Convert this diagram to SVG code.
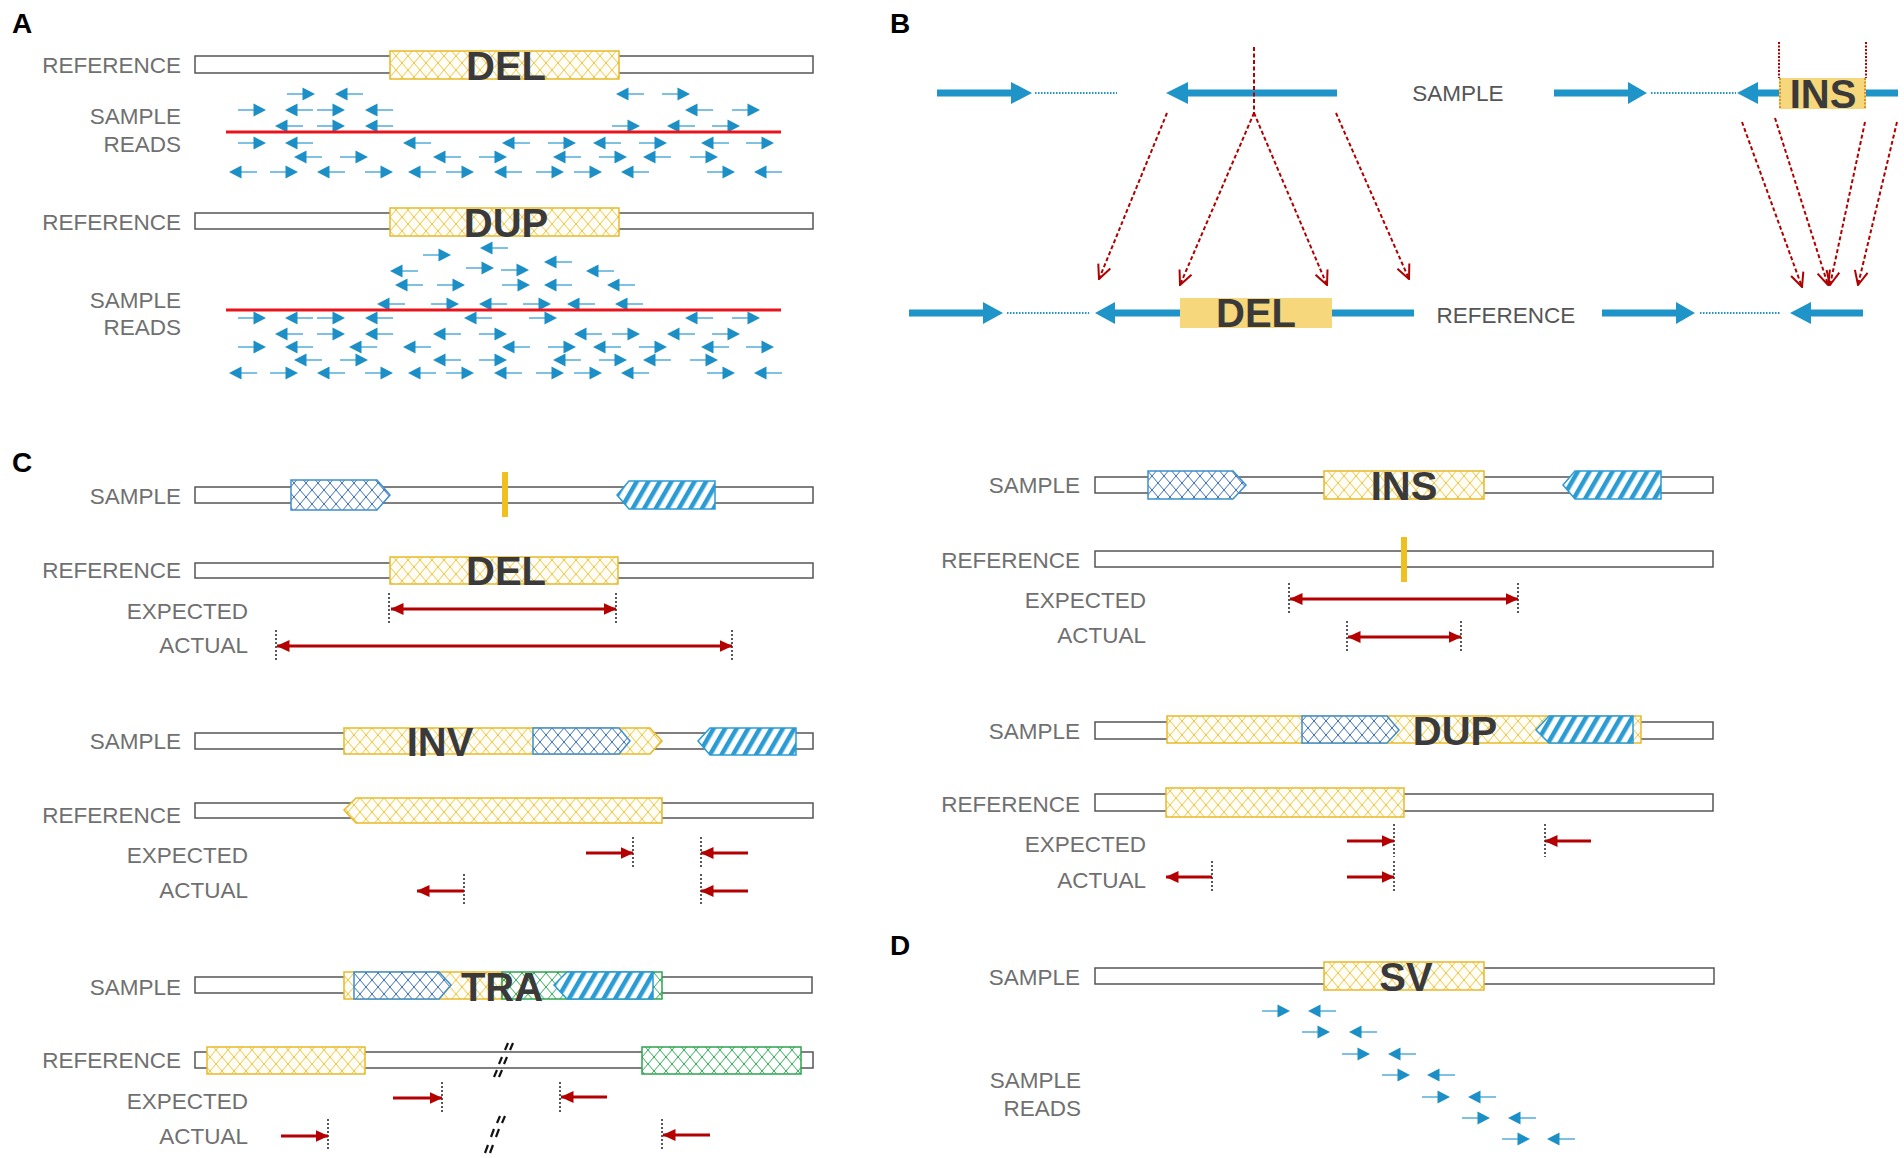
<svg xmlns="http://www.w3.org/2000/svg" xmlns:xlink="http://www.w3.org/1999/xlink" width="1904" height="1158" viewBox="0 0 1904 1158">
<style>
.pl{font-family:"Liberation Sans",Arial,sans-serif;font-weight:bold;font-size:28px;fill:#000}
.lbl{font-family:"Liberation Sans",Arial,sans-serif;font-size:22.5px;fill:#707070;text-anchor:end}
.lbc{font-family:"Liberation Sans",Arial,sans-serif;font-size:22.5px;fill:#555;text-anchor:middle}
.big{font-family:"Liberation Sans",Arial,sans-serif;font-weight:bold;font-size:40px;fill:#3a3a3a;text-anchor:middle}
.bar{fill:#fff;stroke:#555;stroke-width:1.5}
.ylw{fill:url(#pY);stroke:#e8b92a;stroke-width:1.5}
.blx{fill:url(#pB);stroke:#3d8fcc;stroke-width:1.5}
.bls{fill:url(#pS);stroke:#2b9bd3;stroke-width:1.5}
.grn{fill:url(#pG);stroke:#2da44e;stroke-width:1.5}
.vb{fill:#f0c020}
.dot{stroke:#222;stroke-width:1.5;stroke-dasharray:2 2;fill:none}
.ra{stroke:#b40000;stroke-width:3;fill:none;marker-end:url(#ah)}
.rb{stroke:#b40000;stroke-width:3;fill:none;marker-end:url(#ah);marker-start:url(#ah)}
.bt{stroke:#1f94c8;stroke-width:7;fill:none}
.bh{fill:#1f94c8}
.bd{stroke:#1f94c8;stroke-width:2;stroke-dasharray:1.5 1.5;fill:none}
.rd{stroke:#b00000;stroke-width:2;stroke-dasharray:4 2.5;fill:none}
.rdd{stroke:#b00000;stroke-width:2;stroke-dasharray:2 1.5;fill:none}
.odd{stroke:#e0902a;stroke-width:2;stroke-dasharray:2 1.5;fill:none}
.rda{stroke:#b00000;stroke-width:2;stroke-dasharray:4 2.5;fill:none;marker-end:url(#chev)}
.ins{fill:#f6d77c}
.brk{stroke:#111;stroke-width:2.2;fill:none}
.red{stroke:#e8141c;stroke-width:3}
</style>
<defs>
<pattern id="pY" width="12" height="14" patternUnits="userSpaceOnUse"><rect width="12" height="14" fill="#fffdf6"/><path d="M0,0 L12,14 M12,0 L0,14" stroke="#efc640" stroke-width="1"/></pattern>
<pattern id="pB" width="12" height="14" patternUnits="userSpaceOnUse"><rect width="12" height="14" fill="#fff"/><path d="M0,0 L12,14 M12,0 L0,14" stroke="#3a6db8" stroke-width="1"/></pattern>
<pattern id="pG" width="12" height="14" patternUnits="userSpaceOnUse"><rect width="12" height="14" fill="#fff"/><path d="M0,0 L12,14 M12,0 L0,14" stroke="#2fae55" stroke-width="1"/></pattern>
<pattern id="pS" width="10" height="10" patternUnits="userSpaceOnUse" patternTransform="rotate(30)"><rect width="10" height="10" fill="#fff"/><rect width="4.5" height="10" fill="#2b9bd3"/></pattern>
<marker id="ah" viewBox="0 0 13 12" refX="12.5" refY="6" markerWidth="13" markerHeight="12" orient="auto-start-reverse" markerUnits="userSpaceOnUse"><path d="M0,0 L13,6 L0,12 z" fill="#b40000"/></marker>
<marker id="chev" viewBox="0 0 16 16" refX="15" refY="8" markerWidth="16" markerHeight="16" orient="auto" markerUnits="userSpaceOnUse"><path d="M1,1.5 L15,8 L1,14.5" fill="none" stroke="#b00000" stroke-width="2"/></marker>
<g id="rr"><path d="M0,0 H18" stroke="#5fb2dc" stroke-width="1.6"/><path d="M15.5,-6.5 L28,0 L15.5,6.5 z" fill="#1b8fc6"/></g>
<g id="rl"><path d="M10,0 H28" stroke="#5fb2dc" stroke-width="1.6"/><path d="M12.5,-6.5 L0,0 L12.5,6.5 z" fill="#1b8fc6"/></g>
</defs>
<rect width="1904" height="1158" fill="#fff"/>

<!-- Panel A -->
<g id="panelA">
<text class="pl" x="12" y="33">A</text>
<g id="A-del-ref">
<text class="lbl" x="181" y="73">REFERENCE</text>
<rect class="bar" x="195" y="56" width="618" height="17"/>
<rect class="ylw" x="390" y="51" width="229" height="28"/>
<text class="big" x="506" y="80">DEL</text>
</g>
<g id="A-del-reads">
<text class="lbl" x="181" y="124">SAMPLE</text>
<text class="lbl" x="181" y="152">READS</text>
<use href="#rr" x="287" y="94"/><use href="#rl" x="335" y="94"/><use href="#rl" x="616" y="94"/><use href="#rr" x="662" y="94"/>
<use href="#rr" x="238" y="110"/><use href="#rl" x="285" y="110"/><use href="#rr" x="317" y="110"/><use href="#rl" x="365" y="110"/><use href="#rl" x="685" y="110"/><use href="#rr" x="732" y="110"/>
<use href="#rl" x="275" y="126"/><use href="#rr" x="317" y="126"/><use href="#rl" x="365" y="126"/><use href="#rr" x="612" y="126"/><use href="#rl" x="667" y="126"/><use href="#rr" x="712" y="126"/>
<line class="red" x1="226" y1="132" x2="781" y2="132"/>
<use href="#rr" x="238" y="143"/><use href="#rl" x="285" y="143"/><use href="#rl" x="403" y="143"/><use href="#rl" x="502" y="143"/><use href="#rr" x="548" y="143"/><use href="#rl" x="593" y="143"/><use href="#rr" x="639" y="143"/><use href="#rl" x="701" y="143"/><use href="#rr" x="746" y="143"/>
<use href="#rl" x="294" y="157"/><use href="#rr" x="340" y="157"/><use href="#rl" x="433" y="157"/><use href="#rr" x="479" y="157"/><use href="#rl" x="553" y="157"/><use href="#rr" x="599" y="157"/><use href="#rl" x="643" y="157"/><use href="#rr" x="690" y="157"/>
<use href="#rl" x="229" y="172"/><use href="#rr" x="270" y="172"/><use href="#rl" x="317" y="172"/><use href="#rr" x="365" y="172"/><use href="#rl" x="408" y="172"/><use href="#rr" x="446" y="172"/><use href="#rl" x="494" y="172"/><use href="#rr" x="536" y="172"/><use href="#rr" x="574" y="172"/><use href="#rl" x="621" y="172"/><use href="#rr" x="707" y="172"/><use href="#rl" x="754" y="172"/>
</g>
<g id="A-dup-ref">
<text class="lbl" x="181" y="230">REFERENCE</text>
<rect class="bar" x="195" y="213" width="618" height="16"/>
<rect class="ylw" x="390" y="208" width="229" height="28"/>
<text class="big" x="506" y="237">DUP</text>
</g>
<g id="A-dup-reads">
<text class="lbl" x="181" y="308">SAMPLE</text>
<text class="lbl" x="181" y="335">READS</text>
<use href="#rl" x="480" y="248"/>
<use href="#rr" x="423" y="255"/>
<use href="#rl" x="544" y="262"/>
<use href="#rl" x="390" y="271"/><use href="#rr" x="466" y="268"/><use href="#rr" x="501" y="270"/><use href="#rl" x="586" y="271"/>
<use href="#rl" x="395" y="285"/><use href="#rr" x="437" y="285"/><use href="#rr" x="502" y="285"/><use href="#rl" x="544" y="285"/><use href="#rl" x="607" y="285"/>
<use href="#rl" x="377" y="304"/><use href="#rr" x="431" y="304"/><use href="#rl" x="479" y="304"/><use href="#rr" x="523" y="304"/><use href="#rl" x="567" y="304"/><use href="#rl" x="615" y="304"/>
<line class="red" x1="226" y1="310" x2="781" y2="310"/>
<use href="#rr" x="238" y="318"/><use href="#rl" x="285" y="318"/><use href="#rr" x="317" y="318"/><use href="#rl" x="365" y="318"/><use href="#rl" x="464" y="318"/><use href="#rr" x="529" y="318"/><use href="#rl" x="685" y="318"/><use href="#rr" x="732" y="318"/>
<use href="#rl" x="275" y="334"/><use href="#rr" x="317" y="334"/><use href="#rl" x="365" y="334"/><use href="#rl" x="433" y="334"/><use href="#rr" x="479" y="334"/><use href="#rl" x="574" y="334"/><use href="#rr" x="612" y="334"/><use href="#rl" x="667" y="334"/><use href="#rr" x="712" y="334"/>
<use href="#rr" x="238" y="347"/><use href="#rl" x="285" y="347"/><use href="#rl" x="349" y="347"/><use href="#rl" x="403" y="347"/><use href="#rl" x="502" y="347"/><use href="#rr" x="548" y="347"/><use href="#rl" x="593" y="347"/><use href="#rr" x="639" y="347"/><use href="#rl" x="701" y="347"/><use href="#rr" x="746" y="347"/>
<use href="#rl" x="294" y="360"/><use href="#rr" x="340" y="360"/><use href="#rl" x="433" y="360"/><use href="#rr" x="479" y="360"/><use href="#rl" x="553" y="360"/><use href="#rr" x="599" y="360"/><use href="#rl" x="643" y="360"/><use href="#rr" x="690" y="360"/>
<use href="#rl" x="229" y="373"/><use href="#rr" x="270" y="373"/><use href="#rl" x="317" y="373"/><use href="#rr" x="365" y="373"/><use href="#rl" x="408" y="373"/><use href="#rr" x="446" y="373"/><use href="#rl" x="494" y="373"/><use href="#rr" x="536" y="373"/><use href="#rr" x="574" y="373"/><use href="#rl" x="621" y="373"/><use href="#rr" x="707" y="373"/><use href="#rl" x="754" y="373"/>
</g>
</g>

<!-- Panel B -->
<g id="panelB">
<text class="pl" x="890" y="33">B</text>
<g id="B-sample">
<line class="bt" x1="937" y1="93" x2="1012" y2="93"/><polygon class="bh" points="1011,82 1032,93 1011,104"/>
<line class="bd" x1="1035" y1="93" x2="1117" y2="93"/>
<polygon class="bh" points="1188,82 1166,93 1188,104"/><line class="bt" x1="1187" y1="93" x2="1337" y2="93"/>
<text class="lbc" x="1458" y="101">SAMPLE</text>
<line class="bt" x1="1554" y1="93" x2="1629" y2="93"/><polygon class="bh" points="1628,82 1647,93 1628,104"/>
<line class="bd" x1="1651" y1="93" x2="1736" y2="93"/>
<polygon class="bh" points="1758,82 1737,93 1758,104"/><line class="bt" x1="1757" y1="93" x2="1898" y2="93"/>
<rect class="ins" x="1779" y="78" width="87" height="31"/>
<line class="odd" x1="1780" y1="78" x2="1780" y2="109"/>
<line class="odd" x1="1865" y1="78" x2="1865" y2="109"/>
<text class="big" x="1823" y="108">INS</text>
</g>
<g id="B-reference">
<line class="bt" x1="909" y1="313" x2="984" y2="313"/><polygon class="bh" points="983,302 1003,313 983,324"/>
<line class="bd" x1="1007" y1="313" x2="1089" y2="313"/>
<polygon class="bh" points="1115,302 1095,313 1115,324"/><line class="bt" x1="1114" y1="313" x2="1414" y2="313"/>
<rect class="ins" x="1180" y="298" width="152" height="30"/>
<text class="big" x="1256" y="327">DEL</text>
<text class="lbc" x="1506" y="323">REFERENCE</text>
<line class="bt" x1="1602" y1="313" x2="1677" y2="313"/><polygon class="bh" points="1676,302 1695,313 1676,324"/>
<line class="bd" x1="1700" y1="313" x2="1781" y2="313"/>
<polygon class="bh" points="1811,302 1790,313 1811,324"/><line class="bt" x1="1810" y1="313" x2="1863" y2="313"/>
</g>
<g id="B-connectors">
<line class="rd" x1="1254" y1="47" x2="1254" y2="113"/>
<line class="rdd" x1="1779" y1="42" x2="1779" y2="78"/>
<line class="rdd" x1="1866" y1="42" x2="1866" y2="78"/>
<line class="rda" x1="1167" y1="113" x2="1099" y2="279"/>
<line class="rda" x1="1254" y1="113" x2="1180" y2="285"/>
<line class="rda" x1="1254" y1="113" x2="1327" y2="285"/>
<line class="rda" x1="1336" y1="113" x2="1409" y2="279"/>
<line class="rda" x1="1742" y1="122" x2="1802" y2="287"/>
<line class="rda" x1="1775" y1="118" x2="1828" y2="285"/>
<line class="rda" x1="1865" y1="122" x2="1830" y2="285"/>
<line class="rda" x1="1897" y1="122" x2="1858" y2="285"/>
</g>
</g>

<!-- Panel C -->
<g id="panelC">
<text class="pl" x="12" y="472">C</text>
<g id="C-del">
<text class="lbl" x="181" y="504">SAMPLE</text>
<rect class="bar" x="195" y="487" width="618" height="16"/>
<polygon class="blx" points="291,480 377,480 390,495 377,510 291,510"/>
<rect class="vb" x="502" y="472" width="6" height="45"/>
<polygon class="bls" points="629,481 715,481 715,509 629,509 617,495"/>
<text class="lbl" x="181" y="578">REFERENCE</text>
<rect class="bar" x="195" y="563" width="618" height="15"/>
<rect class="ylw" x="390" y="557" width="228" height="27"/>
<text class="big" x="506" y="585">DEL</text>
<text class="lbl" x="248" y="619">EXPECTED</text>
<line class="dot" x1="389" y1="593" x2="389" y2="624"/><line class="dot" x1="616" y1="593" x2="616" y2="624"/>
<line class="rb" x1="391" y1="609" x2="616" y2="609"/>
<text class="lbl" x="248" y="653">ACTUAL</text>
<line class="dot" x1="276" y1="630" x2="276" y2="661"/><line class="dot" x1="732" y1="630" x2="732" y2="661"/>
<line class="rb" x1="277" y1="646" x2="732" y2="646"/>
</g>
<g id="C-inv">
<text class="lbl" x="181" y="749">SAMPLE</text>
<rect class="bar" x="195" y="733" width="618" height="16"/>
<polygon class="ylw" points="344,728 650,728 662,741 650,754 344,754"/>
<polygon class="blx" points="533,728 619,728 630,741 619,754 533,754"/>
<text class="big" x="440" y="756">INV</text>
<polygon class="bls" points="710,728 796,728 796,755 710,755 698,741"/>
<text class="lbl" x="181" y="823">REFERENCE</text>
<rect class="bar" x="195" y="803" width="618" height="15"/>
<polygon class="ylw" points="356,798 662,798 662,823 356,823 344,810"/>
<text class="lbl" x="248" y="863">EXPECTED</text>
<line class="dot" x1="633" y1="837" x2="633" y2="868"/><line class="ra" x1="586" y1="853" x2="633" y2="853"/>
<line class="dot" x1="701" y1="837" x2="701" y2="868"/><line class="ra" x1="748" y1="853" x2="701" y2="853"/>
<text class="lbl" x="248" y="898">ACTUAL</text>
<line class="dot" x1="464" y1="874" x2="464" y2="905"/><line class="ra" x1="464" y1="891" x2="417" y2="891"/>
<line class="dot" x1="701" y1="874" x2="701" y2="905"/><line class="ra" x1="748" y1="891" x2="701" y2="891"/>
</g>
<g id="C-tra">
<text class="lbl" x="181" y="995">SAMPLE</text>
<rect class="bar" x="195" y="977" width="617" height="16"/>
<rect class="ylw" x="344" y="972" width="158" height="27"/>
<rect class="grn" x="502" y="972" width="160" height="27"/>
<polygon class="blx" points="354,972 439,972 451,985 439,999 354,999"/>
<polygon class="bls" points="567,972 653,972 653,999 567,999 554,985"/>
<text class="big" x="502" y="1001">TRA</text>
<text class="lbl" x="181" y="1068">REFERENCE</text>
<rect class="bar" x="195" y="1052" width="618" height="16"/>
<rect class="ylw" x="207" y="1047" width="158" height="27"/>
<rect class="grn" x="642" y="1047" width="159" height="27"/>
<path class="brk" d="M505,1050 L508,1043 M510,1050 L513,1043 M499,1064 L502,1057 M504,1064 L507,1057 M494,1077 L497,1070 M499,1077 L502,1070"/>
<text class="lbl" x="248" y="1109">EXPECTED</text>
<line class="dot" x1="442" y1="1082" x2="442" y2="1113"/><line class="ra" x1="393" y1="1098" x2="442" y2="1098"/>
<line class="dot" x1="560" y1="1082" x2="560" y2="1113"/><line class="ra" x1="607" y1="1097" x2="561" y2="1097"/>
<text class="lbl" x="248" y="1144">ACTUAL</text>
<line class="dot" x1="328" y1="1119" x2="328" y2="1151"/><line class="ra" x1="281" y1="1136" x2="328" y2="1136"/>
<line class="dot" x1="662" y1="1119" x2="662" y2="1151"/><line class="ra" x1="710" y1="1135" x2="663" y2="1135"/>
<path class="brk" d="M497,1123 L500,1116 M502,1123 L505,1116 M491,1137 L494,1129 M496,1137 L499,1129 M485,1153 L488,1145 M490,1153 L493,1145"/>
</g>
<g id="C-ins">
<text class="lbl" x="1080" y="493">SAMPLE</text>
<rect class="bar" x="1095" y="477" width="618" height="16"/>
<polygon class="blx" points="1148,471 1233,471 1246,485 1233,499 1148,499"/>
<rect class="ylw" x="1324" y="471" width="160" height="28"/>
<text class="big" x="1404" y="500">INS</text>
<polygon class="bls" points="1575,471 1661,471 1661,499 1575,499 1563,485"/>
<text class="lbl" x="1080" y="568">REFERENCE</text>
<rect class="bar" x="1095" y="551" width="618" height="16"/>
<rect class="vb" x="1401" y="537" width="6" height="45"/>
<text class="lbl" x="1146" y="608">EXPECTED</text>
<line class="dot" x1="1289" y1="583" x2="1289" y2="615"/><line class="dot" x1="1518" y1="583" x2="1518" y2="615"/>
<line class="rb" x1="1290" y1="599" x2="1518" y2="599"/>
<text class="lbl" x="1146" y="643">ACTUAL</text>
<line class="dot" x1="1347" y1="621" x2="1347" y2="653"/><line class="dot" x1="1461" y1="621" x2="1461" y2="653"/>
<line class="rb" x1="1348" y1="637" x2="1461" y2="637"/>
</g>
<g id="C-dup">
<text class="lbl" x="1080" y="739">SAMPLE</text>
<rect class="bar" x="1095" y="722" width="618" height="17"/>
<rect class="ylw" x="1167" y="716" width="474" height="27"/>
<polygon class="blx" points="1302,716 1387,716 1399,730 1387,743 1302,743"/>
<text class="big" x="1455" y="745">DUP</text>
<polygon class="bls" points="1549,716 1633,716 1633,743 1549,743 1536,730"/>
<text class="lbl" x="1080" y="812">REFERENCE</text>
<rect class="bar" x="1095" y="794" width="618" height="17"/>
<rect class="ylw" x="1166" y="788" width="238" height="29"/>
<text class="lbl" x="1146" y="852">EXPECTED</text>
<line class="dot" x1="1394" y1="824" x2="1394" y2="857"/><line class="ra" x1="1347" y1="841" x2="1394" y2="841"/>
<line class="dot" x1="1545" y1="824" x2="1545" y2="857"/><line class="ra" x1="1591" y1="841" x2="1545" y2="841"/>
<text class="lbl" x="1146" y="888">ACTUAL</text>
<line class="dot" x1="1212" y1="861" x2="1212" y2="893"/><line class="ra" x1="1212" y1="877" x2="1166" y2="877"/>
<line class="dot" x1="1394" y1="861" x2="1394" y2="893"/><line class="ra" x1="1347" y1="877" x2="1394" y2="877"/>
</g>
</g>

<!-- Panel D -->
<g id="panelD">
<text class="pl" x="890" y="955">D</text>
<g id="D-sample">
<text class="lbl" x="1080" y="985">SAMPLE</text>
<rect class="bar" x="1095" y="968" width="619" height="16"/>
<rect class="ylw" x="1324" y="962" width="160" height="28"/>
<text class="big" x="1406" y="991">SV</text>
</g>
<g id="D-reads">
<text class="lbl" x="1081" y="1088">SAMPLE</text>
<text class="lbl" x="1081" y="1116">READS</text>
<use href="#rr" x="1262" y="1011"/><use href="#rl" x="1308" y="1011"/>
<use href="#rr" x="1302" y="1032"/><use href="#rl" x="1349" y="1032"/>
<use href="#rr" x="1342" y="1054"/><use href="#rl" x="1388" y="1054"/>
<use href="#rr" x="1382" y="1075"/><use href="#rl" x="1427" y="1075"/>
<use href="#rr" x="1422" y="1097"/><use href="#rl" x="1468" y="1097"/>
<use href="#rr" x="1462" y="1118"/><use href="#rl" x="1508" y="1118"/>
<use href="#rr" x="1502" y="1139"/><use href="#rl" x="1547" y="1139"/>
</g>
</g>
</svg>
